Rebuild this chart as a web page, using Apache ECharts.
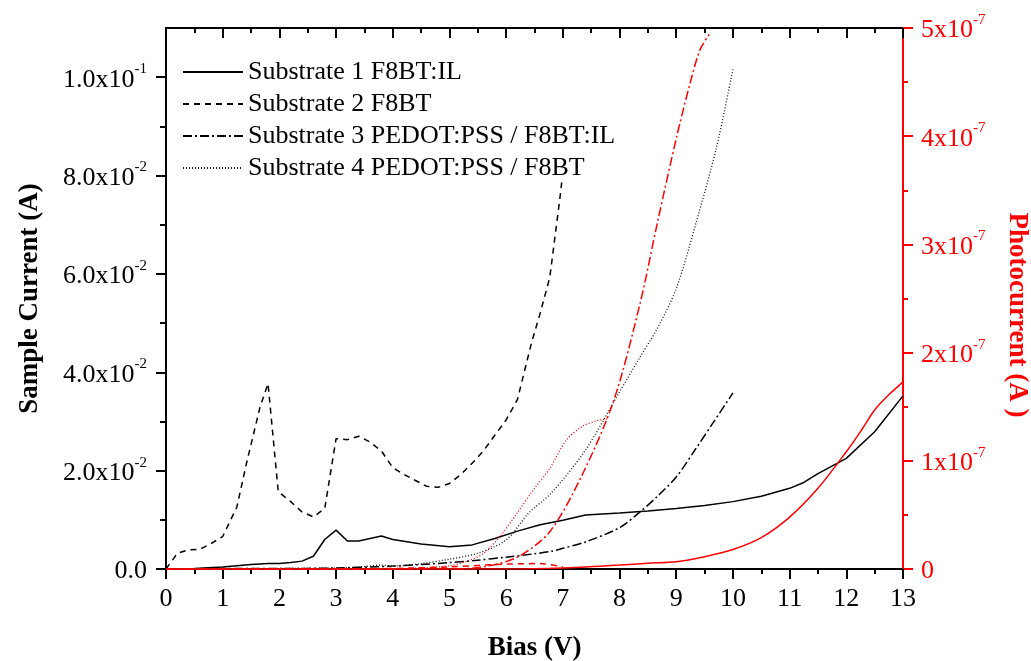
<!DOCTYPE html>
<html>
<head>
<meta charset="utf-8">
<script src="https://cdn.jsdelivr.net/npm/echarts@6/dist/echarts.min.js"></script>
<style>
html,body{margin:0;padding:0;background:#fff;}
#chart{width:1031px;height:661px;}
</style>
</head>
<body>
<div id="chart"></div>
<script>
// ---- data (Bias in V, currents in A) ----
var seriesNames = ['Substrate 1 F8BT:IL', 'Substrate 2 F8BT', 'Substrate 3 PEDOT:PSS / F8BT:IL', 'Substrate 4 PEDOT:PSS / F8BT'];

var s1X = [0, 0.5, 1, 1.5, 1.8, 2.0, 2.2, 2.4, 2.6, 2.8, 3.0, 3.2, 3.4, 3.6, 3.8, 4.0, 4.5, 5.0, 5.4, 5.8, 6.2, 6.6, 7.0, 7.4, 8, 8.5, 9, 9.5, 10, 10.5, 11, 11.25, 11.5, 12, 12.5, 13];
var s1Y = [0, 0.0001, 0.0004, 0.0009, 0.0011, 0.0011, 0.0013, 0.0016, 0.0026, 0.006, 0.0079, 0.0057, 0.0057, 0.0062, 0.0067, 0.006, 0.0051, 0.0045, 0.0049, 0.0062, 0.0077, 0.009, 0.0099, 0.011, 0.0114, 0.0118, 0.0123, 0.0129, 0.0137, 0.0148, 0.0164, 0.0176, 0.0194, 0.0225, 0.0279, 0.0352];

var s2X = [0, 0.2, 0.4, 0.6, 0.8, 1.0, 1.25, 1.42, 1.66, 1.8, 1.98, 2.2, 2.4, 2.6, 2.8, 3.0, 3.2, 3.4, 3.6, 3.8, 4.0, 4.2, 4.4, 4.6, 4.8, 5.0, 5.2, 5.4, 5.6, 5.8, 6.0, 6.2, 6.45, 6.6, 6.77, 6.86, 6.95, 6.98];
var s2Y = [0, 0.0032, 0.0039, 0.004, 0.0052, 0.0066, 0.0126, 0.0215, 0.033, 0.0377, 0.0157, 0.0137, 0.0116, 0.0106, 0.0123, 0.0265, 0.0263, 0.027, 0.0258, 0.024, 0.0206, 0.0192, 0.018, 0.0168, 0.0166, 0.0174, 0.0192, 0.0215, 0.024, 0.0272, 0.0303, 0.0345, 0.0461, 0.052, 0.0593, 0.0674, 0.0756, 0.0786];

var s3X = [0, 1, 2, 3, 4, 5, 5.5, 6, 6.5, 6.8, 7, 7.4, 8, 8.33, 8.67, 9, 9.33, 9.66, 10];
var s3Y = [0, 0.0001, 0.0001, 0.0002, 0.0006, 0.0013, 0.0018, 0.0024, 0.0031, 0.0036, 0.0042, 0.0055, 0.0084, 0.0113, 0.0148, 0.0187, 0.0242, 0.0299, 0.0358];

var s4X = [0, 1, 2, 3, 3.5, 3.8, 4.0, 4.5, 5, 5.5, 6, 6.4, 6.8, 7.4, 8, 8.33, 8.66, 9.0, 9.36, 9.71, 10];
var s4Y = [0, 0, 0.0001, 0.0002, 0.0005, 0.0008, 0.0006, 0.0011, 0.002, 0.0032, 0.0059, 0.0114, 0.0155, 0.0242, 0.036, 0.0425, 0.0488, 0.057, 0.0708, 0.0857, 0.1016];

// photocurrent (right axis)
var p1X = [0, 6, 7, 8, 8.5, 9, 9.5, 10, 10.5, 11, 11.5, 12, 12.25, 12.5, 12.75, 13];
var p1Y = [0, 0, 0.01e-7, 0.037e-7, 0.053e-7, 0.067e-7, 0.114e-7, 0.18e-7, 0.29e-7, 0.48e-7, 0.746e-7, 1.084e-7, 1.27e-7, 1.47e-7, 1.61e-7, 1.73e-7];

var p2X = [0, 3, 4, 5, 6, 6.6, 7.0];
var p2Y = [0, 0, 0.005e-7, 0.02e-7, 0.045e-7, 0.05e-7, 0.02e-7];

var p3X = [0, 5, 5.6, 6.2, 6.77, 7.35, 7.9, 8.36, 8.68, 9.01, 9.25, 9.42, 9.58];
var p3Y = [0, 0, 0.02e-7, 0.11e-7, 0.345e-7, 0.88e-7, 1.56e-7, 2.45e-7, 3.23e-7, 4.0e-7, 4.5e-7, 4.8e-7, 4.94e-7];

var p4X = [0, 4, 4.5, 5, 5.3, 5.6, 5.89, 6.19, 6.48, 6.77, 7.06, 7.35, 7.6, 7.8];
var p4Y = [0, 0, 0.01e-7, 0.03e-7, 0.07e-7, 0.145e-7, 0.30e-7, 0.515e-7, 0.73e-7, 0.93e-7, 1.19e-7, 1.32e-7, 1.37e-7, 1.39e-7];

var leftMajorTicks = [0, 0.02, 0.04, 0.06, 0.08, 0.1];
var leftMinorTicks = [0.01, 0.03, 0.05, 0.07, 0.09];

function pairs(xs, ys) { return xs.map(function (x, i) { return [x, ys[i]]; }); }

var FONT = 'Liberation Serif, Times New Roman, serif';
var chart = echarts.init(document.getElementById('chart'));

function leftLabel(v) {
  var n = Math.round(v * 100);
  if (n === 0) return '{b|0.0}';
  if (n === 10) return '{b|1.0x10}{s|-1}';
  if (n % 2 === 0) return '{b|' + n + '.0x10}{s|-2}';
  return '';
}
function rightLabel(v) {
  var n = Math.round(v / 1e-7);
  if (n === 0) return '{b|0}';
  return '{b|' + n + 'x10}{s|-7}';
}

function richFor(color) {
  return {
    b: { fontFamily: FONT, fontSize: 26, color: color, padding: [5, 0, 0, 0] },
    s: { fontFamily: FONT, fontSize: 15, color: color, verticalAlign: 'top' }
  };
}

function lineSeries(name, data, yIdx, color, type, width, smooth) {
  return {
    name: name, type: 'line', data: data, yAxisIndex: yIdx, xAxisIndex: 0,
    symbol: 'none', symbolSize: 0, showSymbol: false, smooth: smooth || false, silent: true,
    lineStyle: { color: color, width: width || 1.5, type: type },
    itemStyle: { color: color },
    animation: false
  };
}

var option = {
  animation: false,
  backgroundColor: '#fff',
  grid: { left: 166, right: 128, top: 28, bottom: 92, containLabel: false, outerBoundsMode: 'none' },
  legend: {
    data: seriesNames,
    orient: 'vertical', left: 182, top: 59, padding: 0,
    itemWidth: 60, itemHeight: 14, itemGap: 6,
    itemStyle: { opacity: 0, borderWidth: 0 },
    textStyle: { fontFamily: FONT, fontSize: 26, color: '#000' },
    selectedMode: false
  },
  xAxis: [
    {
      type: 'value', position: 'bottom', min: 0, max: 13, interval: 1,
      axisLine: { show: true, onZero: false, lineStyle: { color: '#000', width: 2 } },
      axisTick: { show: true, inside: false, length: 10, lineStyle: { color: '#000', width: 2 } },
      minorTick: { show: true, splitNumber: 2, length: 5, lineStyle: { color: '#000', width: 2 } },
      splitLine: { show: false },
      axisLabel: { fontFamily: FONT, fontSize: 26, color: '#000', margin: 17 },
      name: 'Bias (V)', nameLocation: 'middle', nameGap: 66,
      nameTextStyle: { fontFamily: FONT, fontSize: 27, fontWeight: 'bold', color: '#000' }
    },
    {
      type: 'value', position: 'top', min: 0, max: 13, interval: 1,
      axisLine: { show: true, onZero: false, lineStyle: { color: '#000', width: 2 } },
      axisTick: { show: true, inside: true, length: 10, lineStyle: { color: '#000', width: 2 } },
      minorTick: { show: true, splitNumber: 2, length: 5, lineStyle: { color: '#000', width: 2 } },
      splitLine: { show: false },
      axisLabel: { show: false }
    }
  ],
  yAxis: [
    {
      type: 'value', position: 'left', min: 0, max: 0.11,
      axisLine: { show: true, onZero: false, lineStyle: { color: '#000', width: 2 } },
      axisTick: { show: true, inside: false, length: 10, customValues: leftMajorTicks, lineStyle: { color: '#000', width: 2 } },
      splitLine: { show: false },
      axisLabel: {
        customValues: leftMajorTicks, formatter: leftLabel, margin: 19,
        fontFamily: FONT, fontSize: 26, color: '#000', rich: richFor('#000')
      },
      name: 'Sample Current (A)', nameLocation: 'middle', nameGap: 122, nameRotate: 90,
      nameTextStyle: { fontFamily: FONT, fontSize: 27, fontWeight: 'bold', color: '#000' }
    },
    {
      type: 'value', position: 'left', min: 0, max: 0.11,
      axisLine: { show: false },
      axisTick: { show: true, inside: false, length: 6, customValues: leftMinorTicks, lineStyle: { color: '#000', width: 2 } },
      splitLine: { show: false },
      axisLabel: { show: false }
    },
    {
      type: 'value', position: 'right', min: 0, max: 5e-7, interval: 1e-7,
      axisLine: { show: true, onZero: false, lineStyle: { color: '#ff0000', width: 2 } },
      axisTick: { show: true, inside: false, length: 10, lineStyle: { color: '#ff0000', width: 2 } },
      minorTick: { show: true, splitNumber: 2, length: 5, lineStyle: { color: '#ff0000', width: 2 } },
      splitLine: { show: false },
      axisLabel: {
        formatter: rightLabel, margin: 18,
        fontFamily: FONT, fontSize: 26, color: '#ff0000', rich: richFor('#ff0000')
      }
    }
  ],
  graphic: [
    {
      type: 'text', x: 1017, y: 315, rotation: -Math.PI / 2,
      style: {
        text: 'Photocurrent (A )', fill: '#ff0000',
        font: 'bold 27px ' + FONT, textAlign: 'center', textVerticalAlign: 'middle'
      }
    }
  ],
  series: [
    lineSeries(seriesNames[0], pairs(s1X, s1Y), 0, '#000', 'solid', 1.5, false),
    lineSeries(seriesNames[1], pairs(s2X, s2Y), 0, '#000', [6, 5], 1.5, false),
    lineSeries(seriesNames[2], pairs(s3X, s3Y), 0, '#000', [9, 3, 2, 3], 1.5, 0.3),
    lineSeries(seriesNames[3], pairs(s4X, s4Y), 0, '#111', [1, 2], 1.3, 0.3),
    lineSeries('Photocurrent 1', pairs(p1X, p1Y), 2, '#ff0000', 'solid', 1.5, 0.3),
    lineSeries('Photocurrent 2', pairs(p2X, p2Y), 2, '#ff0000', [6, 5], 1.5, 0.3),
    lineSeries('Photocurrent 3', pairs(p3X, p3Y), 2, '#ff0000', [9, 3, 2, 3], 1.5, 0.3),
    lineSeries('Photocurrent 4', pairs(p4X, p4Y), 2, '#ff0000', [1, 2], 1.3, 0.3)
  ]
};
chart.setOption(option);
</script>
</body>
</html>
